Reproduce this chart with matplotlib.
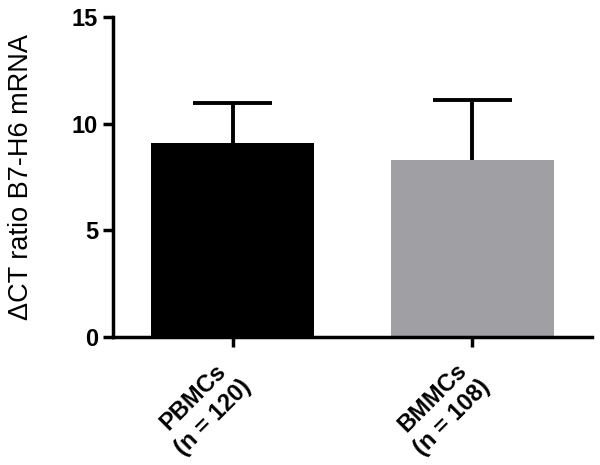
import matplotlib
matplotlib.use("Agg")
import matplotlib.pyplot as plt
import matplotlib.transforms as mtransforms

# data
groups = ["PBMCs\n(n = 120)", "BMMCs\n(n = 108)"]
means = [9.1, 8.3]
errs = [1.9, 2.8]
colors = ["#000000", "#a0a0a4"]

plt.rcParams['font.family'] = ['Liberation Sans', 'DejaVu Sans']

fig = plt.figure(figsize=(6, 4.65), dpi=100)
ax = fig.add_axes([0.188, 0.275, 0.799, 0.688])

x = list(range(len(groups)))
tops = [m + e for m, e in zip(means, errs)]
ax.bar(x, means, width=0.68, color=colors, zorder=1)
# upper error bars only: stem plus cap
ax.vlines(x, means, tops, color='black', linewidth=2.8, zorder=2)
ax.hlines(tops, [i - 0.165 for i in x], [i + 0.165 for i in x],
          color='black', linewidth=2.8, zorder=2)

ax.set_xlim(-0.5, 1.5)
ax.set_ylim(0, 15)
ax.set_yticks([0, 5, 10, 15])
ax.set_xticks(x)
ax.set_xticklabels(groups, rotation=45, ha='right', rotation_mode='anchor',
                   fontsize=17, fontweight='bold', linespacing=1.3,
                   multialignment='center')
for lab in ax.get_yticklabels():
    lab.set_fontweight('bold')
    lab.set_fontsize(17)
ax.set_ylabel("ΔCT ratio B7-H6 mRNA", fontsize=19.5)
ax.yaxis.set_label_coords(-0.165, 0.5)

for s in ['top', 'right']:
    ax.spines[s].set_visible(False)
for s in ['left', 'bottom']:
    ax.spines[s].set_linewidth(2.5)
ax.tick_params(width=2.5, length=7)
ax.tick_params(axis='x', pad=6)

# nudge the rotated labels a little to the left, like the original
fig.canvas.draw()
shift = mtransforms.ScaledTranslation(-10 / 72, 0, fig.dpi_scale_trans)
for tick in ax.xaxis.get_major_ticks():
    tick.label1.set_transform(tick.label1.get_transform() + shift)

fig.savefig("out.png", dpi=100)
